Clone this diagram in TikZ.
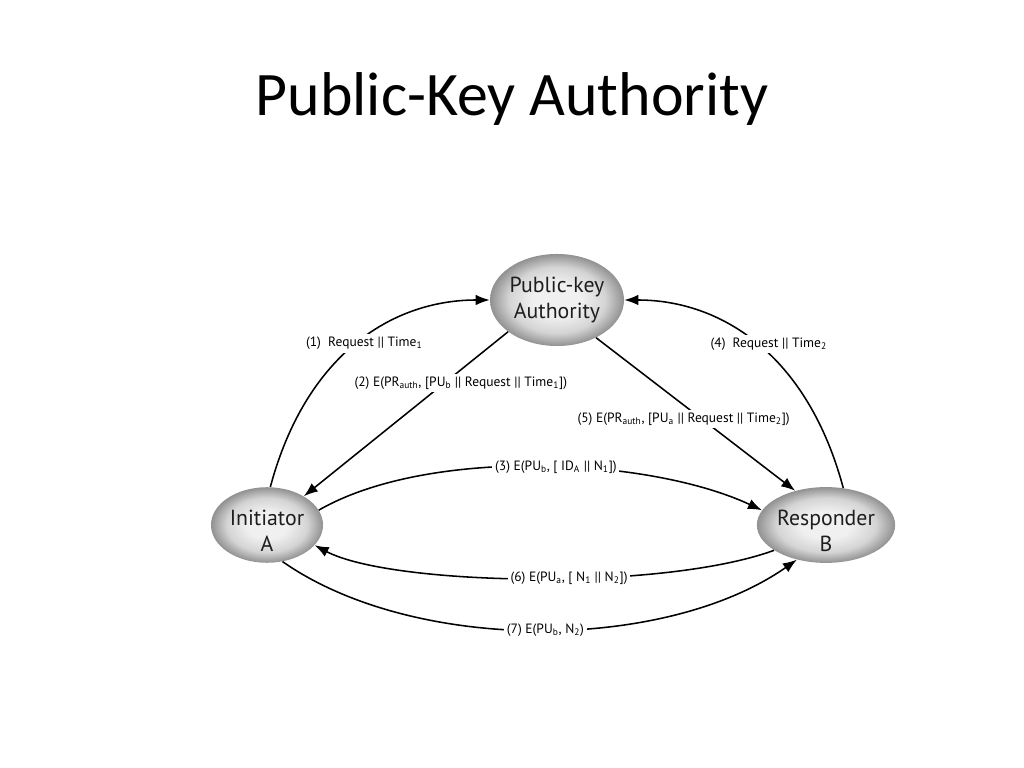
\documentclass[tikz,border=0pt]{standalone}
\usepackage{fontspec}
\setmainfont{Carlito}
\newfontfamily\diagfont{PT Sans}
\usetikzlibrary{shapes.geometric,arrows.meta,positioning,calc}
\definecolor{partylight}{RGB}{240,240,240}
\definecolor{partymid}{RGB}{212,212,212}
\definecolor{partydark}{RGB}{145,145,145}
\definecolor{partytext}{RGB}{30,30,30}
\pgfdeclareradialshading{partyshade}{\pgfpoint{0bp}{0bp}}{%
    color(0bp)=(partylight); color(9bp)=(partylight); color(18bp)=(partymid);
    color(25bp)=(partydark); color(50bp)=(partydark)}

\tikzset{
    oval/.style={ellipse, shading=partyshade, inner sep=0pt, align=center,
        text=partytext, font=\diagfont\fontsize{15.5}{18.5}\selectfont},
    party/.style={oval, minimum width=2.8cm, minimum height=1.85cm, text height=38pt},
    authority/.style={oval, minimum width=3.25cm, minimum height=2.3cm},
    msg/.style={-{Latex[length=10pt,width=7.5pt]}, line width=1.1pt},
    msglabel/.style={fill=white, inner sep=2pt, font=\diagfont\fontsize{9.6}{11}\selectfont}
}

\begin{document}
\begin{tikzpicture}[x=0.025cm, y=0.025cm]
\useasboundingbox (0,0) rectangle (1024,768);

% title
\node (title) at (512,669) {\fontsize{44}{50}\selectfont Public-Key Authority};

% parties
\node[authority] (pka) at (557,468) {Public-key\\Authority};
\node[party] (initA) at (267,243) {Initiator\\A};
\node[party] (respB) at (826,243) {Responder\\B};

% messages
\draw[msg] (initA.85) .. controls +(75:138) and +(180:97) .. (pka.west)
    node[msglabel, pos=0.5, xshift=0.18cm] {(1)\ \ Request || Time\textsubscript{1}};
\draw[msg] (pka.213) --
    node[msglabel, pos=0.31, xshift=0.4cm] {(2) E(PR\textsubscript{auth}, [PU\textsubscript{b} || Request || Time\textsubscript{1}])} (initA.38);
\draw[msg] (initA.16) .. controls +(30:126) and +(155:126) .. (respB.167)
    node[msglabel, pos=0.535] {(3) E(PU\textsubscript{b}, [ ID\textsubscript{A} || N\textsubscript{1}])};
\draw[msg] (respB.65) .. controls +(105:138) and +(0:97) .. (pka.east)
    node[msglabel, pos=0.5, xshift=0.3cm] {(4)\ \ Request || Time\textsubscript{2}};
\draw[msg] (pka.316) --
    node[msglabel, pos=0.53, xshift=-0.45cm] {(5) E(PR\textsubscript{auth}, [PU\textsubscript{a} || Request || Time\textsubscript{2}])} (respB.132);
\draw[msg] (respB.206) .. controls +(200:120) and +(-28:86) .. (initA.-23)
    node[msglabel, pos=0.43] {(6) E(PU\textsubscript{a}, [ N\textsubscript{1} || N\textsubscript{2}])};
\draw[msg] (initA.-67) .. controls +(-35:161) and +(215:161) .. (respB.230)
    node[msglabel, pos=0.51] {(7) E(PU\textsubscript{b}, N\textsubscript{2})};
\end{tikzpicture}
\end{document}
